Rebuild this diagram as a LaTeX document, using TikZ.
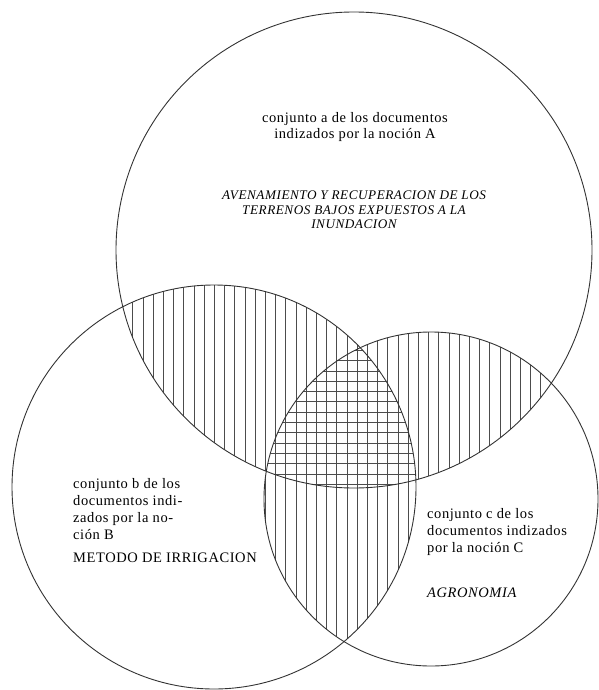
\documentclass[tikz,border=0pt]{standalone}
\usepackage{fontspec}
\setmainfont{Liberation Serif}[LetterSpace=4]
\tikzset{
  setline/.style={black!80, line width=0.9pt},
  hatchline/.style={black!70, line width=0.6pt},
  settext/.style={text=black, inner sep=0pt, font=\fontsize{14.5}{16.8}\selectfont},
}
\begin{document}
\begin{tikzpicture}[x=1pt, y=-1pt]
  \useasboundingbox (0,0) rectangle (599,690);
  % the three sets
  \def\setA{(354,250) circle (238pt)}
  \def\setB{(214,487) circle (202pt)}
  \def\setC{(431,499) circle (167pt)}
  % vertical hatching of the pairwise overlaps
  \begin{scope}
    \clip \setA; \clip \setB;
    \foreach \x in {0,10.2,...,600} \draw[hatchline] (\x,0) -- (\x,690);
  \end{scope}
  \begin{scope}
    \clip \setA; \clip \setC;
    \foreach \x in {0,10.2,...,600} \draw[hatchline] (\x,0) -- (\x,690);
  \end{scope}
  \begin{scope}
    \clip \setB; \clip \setC;
    \foreach \x in {0,10.2,...,600} \draw[hatchline] (\x,0) -- (\x,690);
  \end{scope}
  % horizontal hatching of the common part
  \begin{scope}
    \clip \setA; \clip \setB; \clip \setC;
    \foreach \y in {0,10.3,...,690} \draw[hatchline] (0,\y) -- (599,\y);
  \end{scope}
  \draw[setline] \setA;
  \draw[setline] \setB;
  \draw[setline] \setC;
  % labels
  \node[settext, align=center] (labelA) at (355,127) {conjunto a de los documentos\\indizados por la noción A};
  \node[settext, align=center, font=\fontsize{13.2}{14.6}\selectfont\itshape] (nameA) at (354,210)
    {AVENAMIENTO Y RECUPERACION DE LOS\\TERRENOS BAJOS EXPUESTOS A LA\\INUNDACION};
  \node[settext, align=left, anchor=west] (labelB) at (73,509) {conjunto b de los\\documentos indi-\\zados por la no-\\ción B};
  \node[settext, anchor=west] (nameB) at (73,558) {METODO DE IRRIGACION};
  \node[settext, align=left, anchor=west] (labelC) at (427,532) {conjunto c de los\\documentos indizados\\por la noción C};
  \node[settext, anchor=west, font=\fontsize{14.5}{16.8}\selectfont\itshape] (nameC) at (427,593) {AGRONOMIA};
\end{tikzpicture}
\end{document}
